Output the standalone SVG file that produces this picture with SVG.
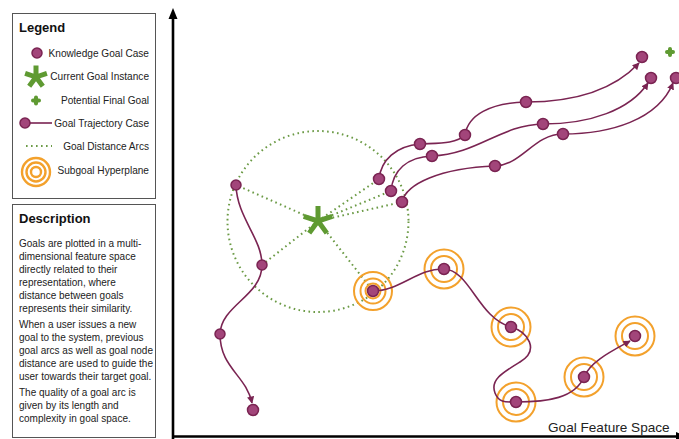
<svg xmlns="http://www.w3.org/2000/svg" width="679" height="439" viewBox="0 0 679 439">
<style>
.box{fill:#fff;stroke:#555;stroke-width:1}
.t{font-family:"Liberation Sans",Arial,sans-serif;font-size:10px;fill:#222}
.lt{font-size:10.1px}
.h{font-family:"Liberation Sans",Arial,sans-serif;font-size:13px;font-weight:bold;fill:#111}
.node{fill:#a2457a;stroke:#7a2452;stroke-width:1.5}
.traj{fill:none;stroke:#7a2452;stroke-width:1.6}
.arc{fill:none;stroke:#6b9a45;stroke-width:2;stroke-dasharray:1.6 3.4}
.ring{fill:none;stroke:#f3a12c;stroke-width:2}
.star{fill:none;stroke:#5f9a32;stroke-width:5}
.plus{fill:none;stroke:#5f9a32;stroke-width:4;stroke-linecap:round}
.axis{fill:none;stroke:#000;stroke-width:2.6}
</style>
<defs>
<marker id="ah" viewBox="0 0 10 10" refX="9" refY="5" markerWidth="4.5" markerHeight="4.5" orient="auto" markerUnits="strokeWidth">
<path d="M0,0 L10,5 L0,10 z" fill="#7a2452"/>
</marker>
</defs>

<g id="axes">
<line class="axis" x1="173" y1="439" x2="173" y2="17"/>
<path d="M173,8 L177.5,19 L168.5,19 z" fill="#000"/>
<line class="axis" x1="172" y1="436.5" x2="679" y2="436.5"/>
<path d="M687,436.5 L676,432 L676,441 z" fill="#000"/>
<text class="t" x="548" y="432" style="font-size:13.6px">Goal Feature Space</text>
</g>

<g id="legend">
<rect class="box" x="12.5" y="13.5" width="143" height="185"/>
<text class="h" x="19" y="32">Legend</text>
<circle class="node" cx="37" cy="53" r="5"/>
<text class="t lt" x="149" y="57" text-anchor="end">Knowledge Goal Case</text>
<path class="star" d="M36,77 L36,65.5 M36,77 L46.9,73.4 M36,77 L42.8,86.3 M36,77 L29.2,86.3 M36,77 L25.1,73.4"/>
<text class="t lt" x="149" y="80" text-anchor="end">Current Goal Instance</text>
<path class="plus" d="M33,100.5 L39,100.5 M36,97.5 L36,103.5"/>
<text class="t lt" x="149" y="104" text-anchor="end">Potential Final Goal</text>
<line class="traj" x1="25" y1="123" x2="52" y2="123"/>
<circle class="node" cx="25" cy="123" r="5"/>
<text class="t lt" x="149" y="127" text-anchor="end">Goal Trajectory Case</text>
<line class="arc" x1="26" y1="146" x2="52" y2="146"/>
<text class="t lt" x="149" y="150" text-anchor="end">Goal Distance Arcs</text>
<circle class="ring" cx="36" cy="172" r="14" style="stroke-width:2.4"/>
<circle class="ring" cx="36" cy="172" r="9.5" style="stroke-width:2.4"/>
<circle class="ring" cx="36" cy="172" r="5" style="stroke-width:2.4"/>
<text class="t lt" x="149" y="174" text-anchor="end">Subgoal Hyperplane</text>
</g>

<g id="description">
<rect class="box" x="12.5" y="204.5" width="143" height="233"/>
<text class="h" x="19" y="223">Description</text>
<text class="t" x="19" y="247">Goals are plotted in a multi-</text>
<text class="t" x="19" y="260">dimensional feature space</text>
<text class="t" x="19" y="273">directly related to their</text>
<text class="t" x="19" y="286">representation, where</text>
<text class="t" x="19" y="299">distance between goals</text>
<text class="t" x="19" y="312">represents their similarity.</text>
<text class="t" x="19" y="328">When a user issues a new</text>
<text class="t" x="19" y="341">goal to the system, previous</text>
<text class="t" x="19" y="354">goal arcs as well as goal node</text>
<text class="t" x="19" y="367">distance are used to guide the</text>
<text class="t" x="19" y="380">user towards their target goal.</text>
<text class="t" x="19" y="396">The quality of a goal arc is</text>
<text class="t" x="19" y="409">given by its length and</text>
<text class="t" x="19" y="422">complexity in goal space.</text>
</g>

<g id="distance-arcs">
<circle class="arc" cx="318" cy="221.5" r="90.5"/>
<line class="arc" x1="318" y1="221" x2="236" y2="185"/>
<line class="arc" x1="318" y1="221" x2="262" y2="265"/>
<line class="arc" x1="318" y1="221" x2="379" y2="179"/>
<line class="arc" x1="318" y1="221" x2="391" y2="191"/>
<line class="arc" x1="318" y1="221" x2="402" y2="202"/>
<line class="arc" x1="318" y1="221" x2="373" y2="291"/>
</g>

<g id="subgoal-rings">
<circle class="ring" cx="373" cy="291" r="19"/>
<circle class="ring" cx="373" cy="291" r="12.5"/>
<circle class="ring" cx="373" cy="291" r="7.5"/>
<circle class="ring" cx="444" cy="269" r="19.5"/>
<circle class="ring" cx="444" cy="269" r="13"/>
<circle class="ring" cx="511" cy="327" r="19.5"/>
<circle class="ring" cx="511" cy="327" r="13"/>
<circle class="ring" cx="516" cy="402" r="19.5"/>
<circle class="ring" cx="516" cy="402" r="13"/>
<circle class="ring" cx="584" cy="377" r="19.5"/>
<circle class="ring" cx="584" cy="377" r="13"/>
<circle class="ring" cx="635" cy="336" r="19.5"/>
<circle class="ring" cx="635" cy="336" r="13"/>
</g>

<g id="connectors">
<path class="traj" d="M236,185 C237,218 262,238 262,265 C262,296 221,305 220,334 C220,368 246,375 252,403" marker-end="url(#ah)"/>
<path class="traj" d="M379,179 C381,160 396,146 420,144 C438,143 456,144 465,135 C468,115 490,103 526,102 C572,102 612,92 639,63" marker-end="url(#ah)"/>
<path class="traj" d="M391,191 C393,170 407,157 432,156 C478,154 500,125 543,124 C590,124 630,110 648,83" marker-end="url(#ah)"/>
<path class="traj" d="M402,202 C406,184 440,168 495,166 C522,165 534,134 563,134 C610,134 658,120 673,83" marker-end="url(#ah)"/>
<path class="traj" d="M373,291 C400,291 418,268 444,269 C470,270 478,318 511,327 C528,332 540,350 520,362 C502,373 490,380 495,393 C499,403 506,402 516,402 C548,402 575,398 584,377 C590,362 610,352 630,341" marker-end="url(#ah)"/>
</g>

<g id="trajectory-nodes">
<circle class="node" cx="236" cy="185" r="5"/>
<circle class="node" cx="262" cy="265" r="5"/>
<circle class="node" cx="220" cy="334" r="5"/>
<circle class="node" cx="253" cy="410" r="5.5"/>
<circle class="node" cx="379" cy="179" r="5.5"/>
<circle class="node" cx="420" cy="144" r="5.5"/>
<circle class="node" cx="465" cy="135" r="5.5"/>
<circle class="node" cx="526" cy="102" r="5.5"/>
<circle class="node" cx="642" cy="57" r="5.5"/>
<circle class="node" cx="391" cy="191" r="5.5"/>
<circle class="node" cx="432" cy="156" r="5.5"/>
<circle class="node" cx="543" cy="124" r="5.5"/>
<circle class="node" cx="651" cy="78" r="5.5"/>
<circle class="node" cx="402" cy="202" r="5.5"/>
<circle class="node" cx="495" cy="166" r="5.5"/>
<circle class="node" cx="563" cy="134" r="5.5"/>
<circle class="node" cx="676" cy="78" r="5.5"/>
<circle class="node" cx="373" cy="291" r="5.5"/>
<circle class="node" cx="444" cy="269" r="5.5"/>
<circle class="node" cx="511" cy="327" r="5.5"/>
<circle class="node" cx="516" cy="402" r="5.5"/>
<circle class="node" cx="584" cy="377" r="5.5"/>
<circle class="node" cx="635" cy="336" r="5.5"/>
</g>

<g id="current-goal">
<path class="star" d="M318,221 L318,206 M318,221 L332.3,216.4 M318,221 L326.8,233.1 M318,221 L309.2,233.1 M318,221 L303.7,216.4"/>
</g>

<g id="final-goal">
<path class="plus" d="M667,52 L673,52 M670,49 L670,55"/>
</g>
</svg>
